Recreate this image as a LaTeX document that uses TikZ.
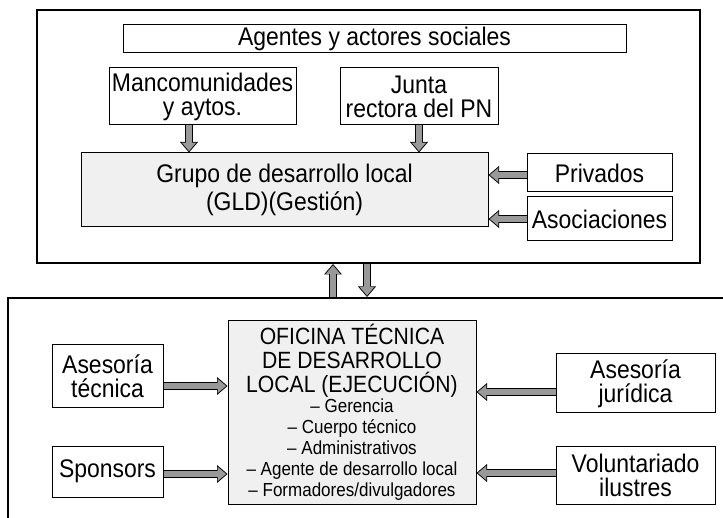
\documentclass[tikz,border=0pt]{standalone}
\usepackage{fontspec}
\setmainfont[FakeStretch=0.9]{Liberation Sans}
\usetikzlibrary{arrows.meta,shapes}
\tikzstyle{box}=[draw,line width=1pt,inner sep=0pt,align=center,font=\fontsize{25.5}{24}\selectfont]
\tikzstyle{mainbox}=[box,fill=black!6]
\tikzstyle{frame}=[draw,line width=2pt,inner sep=0pt]
\tikzstyle{flow}=[draw=black!40,line width=6pt,shorten >=1.4pt,
    -{Triangle[length=8.5pt,width=14.5pt,line width=0pt]},
    preaction={draw=black,line width=8.4pt,shorten >=0pt,
    -{Triangle[length=10.5pt,width=18pt,line width=0pt]}}]
\newcommand{\bigtxt}{\fontsize{23.5}{24}\selectfont}
\newcommand{\smalltxt}{\fontsize{18.9}{18.5}\selectfont}

\begin{document}
\begin{tikzpicture}[x=1pt,y=-1pt]
    \useasboundingbox (0,0) rectangle (723,518);
    \clip (0,0) rectangle (723,518);
    % First the two frames
    \node[frame,minimum width=663pt,minimum height=253pt] (gestion) at (368.5,136.5) {};
    \node[frame,minimum width=740pt,minimum height=250pt] (ejecucion) at (378,423) {};
    % Then the boxes
    \foreach \pos/\name/\bw/\bh/\txt in {{(374.5,39)/agentes/503/28/{Agentes y actores sociales}},
        {(202.5,96.5)/mancom/187/57/{Mancomunidades\\y aytos.}},
        {(419,96.5)/junta/158/57/{Junta\\rectora del PN}},
        {(599.5,173)/privados/145/38/{Privados}},
        {(599.5,219)/asoc/145/44/{Asociaciones}},
        {(107.5,376.5)/asetec/111/63/{Asesoría\\técnica}},
        {(107.5,471.5)/sponsors/111/51/{Sponsors}},
        {(635.5,383.5)/asejur/159/59/{Asesoría\\jurídica}},
        {(635.5,475)/volunt/159/58/{Voluntariado\\ilustres}}}
        \node[box,minimum width=\bw pt,minimum height=\bh pt] (\name) at \pos {\txt};
    \node[mainbox,minimum width=407pt,minimum height=74pt] (grupo) at (284.5,190)
        {Grupo de desarrollo local\\[3pt](GLD)(Gestión)};
    \node[mainbox,minimum width=248pt,minimum height=183pt,font=\bigtxt] (oficina) at (352,412.5)
        {OFICINA TÉCNICA\\DE DESARROLLO\\LOCAL (EJECUCIÓN)\\[-4pt]
        \smalltxt – Gerencia\\[-3pt]\smalltxt – Cuerpo técnico\\[-3pt]\smalltxt – Administrativos\\[-3pt]
        \smalltxt – Agente de desarrollo local\\[-3pt]\smalltxt – Formadores/divulgadores};
    % Connect boxes with arrows
    \path[flow] ([xshift=-13.5pt]mancom.south) -- ([xshift=-13.5pt]mancom.south |- grupo.north);
    \path[flow] (junta.south) -- (junta.south |- grupo.north);
    \foreach \source/\dest/\dy in {privados/grupo/-2, asoc/grupo/0, asejur/oficina/-8.5, volunt/oficina/2}
        \path[flow] ([yshift=\dy pt]\source.west) -- ([yshift=\dy pt]\source.west -| \dest.east);
    \foreach \source/\dest/\dy in {asetec/oficina/-9.5, sponsors/oficina/-2.5}
        \path[flow] ([yshift=\dy pt]\source.east) -- ([yshift=\dy pt]\source.east -| \dest.west);
    \path[flow] ([xshift=-35.5pt]gestion.south |- ejecucion.north) -- ([xshift=-35.5pt]gestion.south);
    \path[flow] ([xshift=-1.5pt]gestion.south) -- ([xshift=-1.5pt]gestion.south |- ejecucion.north);
\end{tikzpicture}
\end{document}
